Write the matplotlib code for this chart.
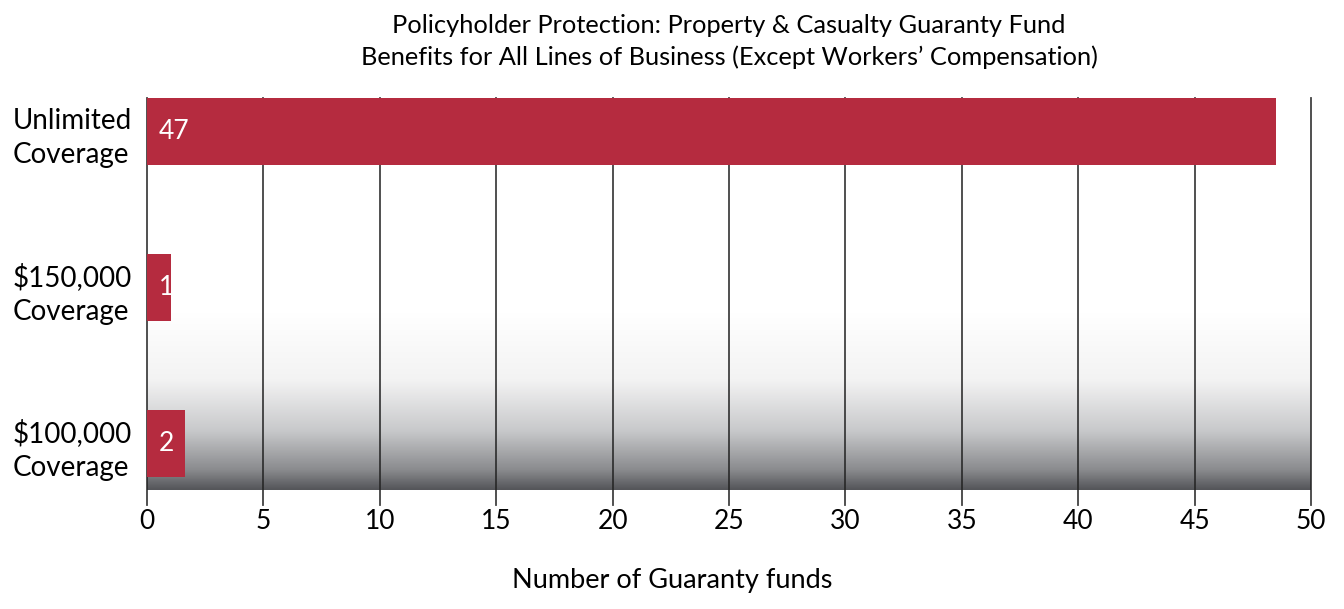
import numpy as np
import matplotlib
matplotlib.use("Agg")
from matplotlib import pyplot as plt
from matplotlib.colors import LinearSegmentedColormap

# data
categories = ["Unlimited\nCoverage", "$150,000\nCoverage", "$100,000\nCoverage"]
bar_lengths = [48.5, 1.03, 1.65]     # drawn lengths as seen in the picture
value_labels = ["47", "1", "2"]
x_ticks = [0, 5, 10, 15, 20, 25, 30, 35, 40, 45, 50]

title = ("Policyholder Protection: Property & Casualty Guaranty Fund\n"
         "Benefits for All Lines of Business (Except Workers\u2019 Compensation)")
x_label = "Number of Guaranty funds"

bar_color = "#B52B3F"

plt.rcParams['font.family'] = ['Lato', 'DejaVu Sans']

fig = plt.figure(figsize=(13.44, 6.09), dpi=100)
ax = fig.add_axes([0.1094, 0.1954, 0.866, 0.6437])

y_pos = [2, 1, 0]
ax.set_xlim(0, 50)
ax.set_ylim(-0.30, 2.215)

# background gradient: white on top, dark gray at the bottom
grad = np.linspace(0, 1, 256).reshape(-1, 1)
cmap = LinearSegmentedColormap.from_list(
    "bg", [(0.0, "#ffffff"), (0.55, "#ffffff"), (0.72, "#f3f3f3"),
           (0.85, "#c8c9cb"), (0.95, "#8a8b8e"), (1.0, "#55565a")])
ax.imshow(grad, aspect="auto", cmap=cmap, extent=[0, 1, 0, 1],
          transform=ax.transAxes, zorder=0, origin="upper")

# vertical grid lines at each tick, running a bit below the axes
for xv in x_ticks:
    ax.plot([xv, xv], [-0.038, 1.0], transform=ax.get_xaxis_transform(),
            color="#222222", lw=1.3, zorder=1, clip_on=False, alpha=0.85)

bars = ax.barh(y_pos, bar_lengths, height=0.43, color=bar_color, zorder=2)
for rect, lab in zip(bars, value_labels):
    ax.text(0.5, rect.get_y() + rect.get_height() / 2, lab,
            color="white", fontsize=19, va="center", ha="left", zorder=3)

ax.set_yticks(y_pos)
ax.set_yticklabels(categories, fontsize=20, linespacing=1.38, ha="left")
ax.tick_params(axis="y", length=0, pad=97)

ax.set_xticks(x_ticks)
ax.set_xticklabels([str(t) for t in x_ticks], fontsize=19)
ax.tick_params(axis="x", length=0, pad=14)

for s in ax.spines.values():
    s.set_visible(False)

ax.set_title(title, fontsize=18.3, linespacing=1.4, pad=24)
fig.text(0.5, 0.026, x_label, ha="center", va="bottom", fontsize=19.5)

fig.savefig("out.png", dpi=100)
